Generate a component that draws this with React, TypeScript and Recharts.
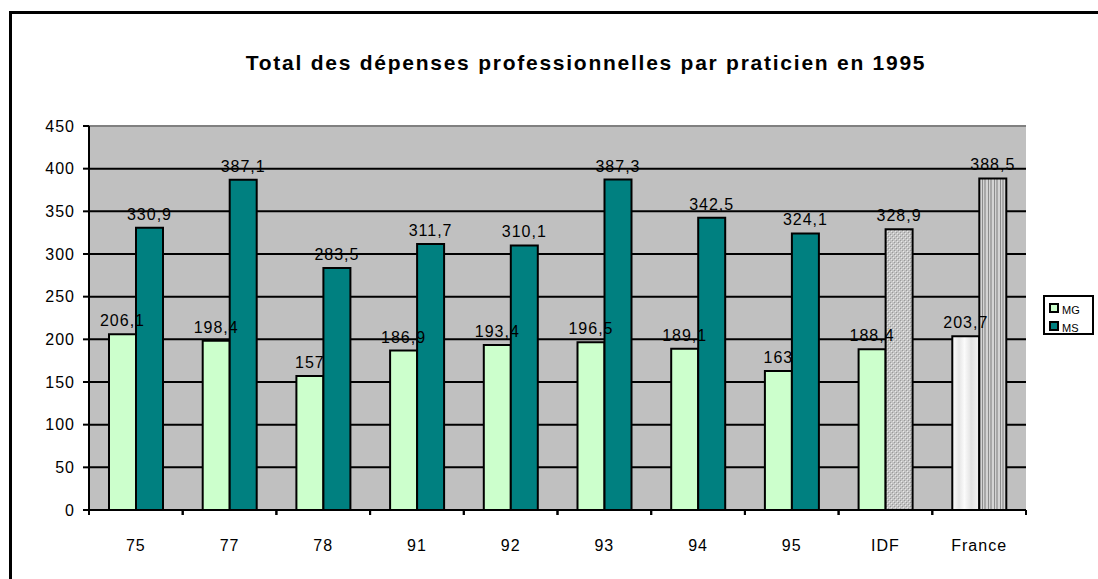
import { BarChart, Bar, XAxis, YAxis, CartesianGrid, LabelList, Cell, ReferenceLine } from "recharts";

const categories = ["75", "77", "78", "91", "92", "93", "94", "95", "IDF", "France"];
const mgValues = [206.1, 198.4, 157, 186.9, 193.4, 196.5, 189.1, 163, 188.4, 203.7];
const msValues = [330.9, 387.1, 283.5, 311.7, 310.1, 387.3, 342.5, 324.1, 328.9, 388.5];
const yTicks = [0, 50, 100, 150, 200, 250, 300, 350, 400, 450];
const seriesNames = ["MG", "MS"];
const seriesColors = ["#CCFFCC", "#008080"];

const data = categories.map((c, i) => ({ cat: c, MG: mgValues[i], MS: msValues[i] }));

const FONT = "'Liberation Sans', Arial, sans-serif";
const fmt = (v: any) => String(v).replace(".", ",");

function mgFill(cat: string) {
  return cat === "France" ? "url(#franceMg)" : "#CCFFCC";
}
function msFill(cat: string) {
  if (cat === "IDF") return "url(#idfMs)";
  if (cat === "France") return "url(#franceMs)";
  return "#008080";
}

function XTick(props: any) {
  const { x, y, payload } = props;
  const half = payload.offset ?? 46.85;
  return (
    <g>
      <line x1={x - half} x2={x - half} y1={y} y2={y + 5} stroke="#000" strokeWidth={2} />
      <line x1={x + half} x2={x + half} y1={y} y2={y + 5} stroke="#000" strokeWidth={2} />
      <text x={x} y={y + 41} textAnchor="middle" fontSize={16} letterSpacing={1} fill="#000" fontFamily={FONT}>
        {payload.value}
      </text>
    </g>
  );
}

function LegendBox() {
  return (
    <div style={{ position: "absolute", left: 1043, top: 295, border: "2px solid #000", width: 47, height: 36, boxSizing: "content-box", background: "#fff", fontFamily: FONT }}>
      {seriesNames.map((name, i) => (
        <div key={name} style={{ display: "flex", alignItems: "center", height: 15, marginTop: 3, paddingLeft: 4 }}>
          <span style={{ width: 6, height: 6, border: "2px solid #000", background: seriesColors[i], display: "inline-block" }} />
          <span style={{ fontSize: 11, marginLeft: 3, marginTop: 4 }}>{name}</span>
        </div>
      ))}
    </div>
  );
}

export default function App() {
  return (
    <div style={{ position: "absolute", left: 0, top: 0, width: 1098, height: 579, overflow: "hidden", background: "#fff", fontFamily: FONT }}>
      <div style={{ position: "absolute", left: 9, top: 11, width: 1200, height: 700, borderLeft: "3px solid #000", borderTop: "3px solid #000" }} />
      <div style={{ position: "absolute", left: 0, width: 1172, top: 51, textAlign: "center", fontSize: 21, fontWeight: "bold", letterSpacing: 1.75 }}>
        Total des dépenses professionnelles par praticien en 1995
      </div>
      <div style={{ position: "absolute", left: 0, top: 0 }}>
        <BarChart width={1098} height={579} data={data} margin={{ top: 126, right: 72, left: 10, bottom: 29 }} barGap={0} barSize={27}>
          <defs>
            <pattern id="idfMs" width="4" height="4" patternUnits="userSpaceOnUse">
              <rect width="4" height="4" fill="#c4c4c4" />
              <rect x="0" y="0" width="1" height="1" fill="#9a9a9a" />
              <rect x="2" y="2" width="1" height="1" fill="#9a9a9a" />
              <rect x="1" y="1" width="1" height="1" fill="#e8e8e8" />
              <rect x="3" y="3" width="1" height="1" fill="#e8e8e8" />
            </pattern>
            <linearGradient id="franceMg" x1="0" y1="0" x2="1" y2="0">
              <stop offset="0%" stopColor="#ffffff" />
              <stop offset="25%" stopColor="#e6e6e6" />
              <stop offset="45%" stopColor="#fbfbfb" />
              <stop offset="70%" stopColor="#e2e2e2" />
              <stop offset="100%" stopColor="#f4f4f4" />
            </linearGradient>
            <pattern id="franceMs" width="6" height="6" patternUnits="userSpaceOnUse">
              <rect width="6" height="6" fill="#d4d4d4" />
              <rect x="0" width="2" height="6" fill="#a8a8a8" />
              <rect x="4" width="1" height="6" fill="#8c8c8c" />
            </pattern>
          </defs>
          <CartesianGrid vertical={false} fill="#C0C0C0" stroke="#000" strokeWidth={2} />
          <XAxis dataKey="cat" tick={<XTick />} tickSize={0} tickMargin={0} tickLine={false} axisLine={{ stroke: "#000", strokeWidth: 2 }} height={40} interval={0} />
          <YAxis
            domain={[0, 450]}
            ticks={yTicks}
            width={79}
            tickSize={6}
            tickMargin={8}
            tickLine={{ stroke: "#000", strokeWidth: 2 }}
            axisLine={{ stroke: "#000", strokeWidth: 2 }}
            tick={{ fill: "#000", fontSize: 16, fontFamily: FONT, letterSpacing: 1 }}
            interval={0}
          />
          <YAxis yAxisId="right" orientation="right" domain={[0, 450]} width={0} tick={false} tickLine={false} axisLine={{ stroke: "#808080", strokeWidth: 2 }} />
          <ReferenceLine y={450} stroke="#808080" strokeWidth={2} />
          <Bar dataKey="MG" stroke="#000" strokeWidth={2} isAnimationActive={false}>
            {data.map((d) => (
              <Cell key={d.cat} fill={mgFill(d.cat)} />
            ))}
            <LabelList dataKey="MG" position="top" offset={8} formatter={fmt} style={{ fill: "#000", fontSize: 16, fontFamily: FONT, letterSpacing: 1 }} />
          </Bar>
          <Bar dataKey="MS" stroke="#000" strokeWidth={2} isAnimationActive={false}>
            {data.map((d) => (
              <Cell key={d.cat} fill={msFill(d.cat)} />
            ))}
            <LabelList dataKey="MS" position="top" offset={8} formatter={fmt} style={{ fill: "#000", fontSize: 16, fontFamily: FONT, letterSpacing: 1 }} />
          </Bar>
        </BarChart>
      </div>
      <LegendBox />
    </div>
  );
}
